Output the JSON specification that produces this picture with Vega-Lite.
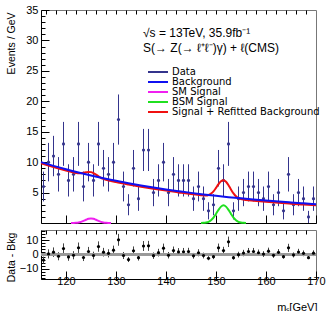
{
  "$schema": "https://vega.github.io/schema/vega-lite/v6.json",
  "padding": {"left": 5, "top": 3, "right": 2, "bottom": 4},
  "spacing": 1,
  "config": {
    "font": "Liberation Sans",
    "view": {"stroke": "#777", "strokeWidth": 1},
    "axis": {"domainColor": "black", "tickColor": "black", "labelColor": "black", "titleColor": "black", "grid": false, "labelFontSize": 11, "titleFontSize": 10.5, "titleFontWeight": "normal", "labelFlush": false, "labelOverlap": false, "minExtent": 0}
  },
  "resolve": {"scale": {"color": "independent"}, "legend": {"color": "independent"}},
  "datasets": {
    "hist": [
      {"m": 115.5, "n": 6, "e": 2.45, "r": -3.9},
      {"m": 116.5, "n": 10, "e": 3.16, "r": 0.4},
      {"m": 117.5, "n": 11, "e": 3.32, "r": 1.6},
      {"m": 118.5, "n": 8, "e": 2.83, "r": -1.2},
      {"m": 119.5, "n": 13, "e": 3.61, "r": 4.1},
      {"m": 120.5, "n": 7, "e": 2.65, "r": -1.7},
      {"m": 121.5, "n": 8, "e": 2.83, "r": -0.5},
      {"m": 122.5, "n": 13, "e": 3.61, "r": 4.7},
      {"m": 123.5, "n": 6, "e": 2.45, "r": -2.1},
      {"m": 124.5, "n": 10, "e": 3.16, "r": 2.1},
      {"m": 125.5, "n": 7, "e": 2.65, "r": -0.7},
      {"m": 126.5, "n": 13, "e": 3.61, "r": 5.5},
      {"m": 127.5, "n": 9, "e": 3.0, "r": 1.6},
      {"m": 128.5, "n": 8, "e": 2.83, "r": 0.8},
      {"m": 129.5, "n": 10, "e": 3.16, "r": 3.0},
      {"m": 130.5, "n": 17, "e": 4.12, "r": 10.2},
      {"m": 131.5, "n": 6, "e": 2.45, "r": -0.7},
      {"m": 132.5, "n": 3, "e": 1.73, "r": -3.5},
      {"m": 133.5, "n": 9, "e": 3.0, "r": 2.6},
      {"m": 134.5, "n": 4, "e": 2.0, "r": -2.2},
      {"m": 135.5, "n": 12, "e": 3.46, "r": 5.9},
      {"m": 136.5, "n": 12, "e": 3.46, "r": 6.0},
      {"m": 137.5, "n": 5, "e": 2.24, "r": -0.8},
      {"m": 138.5, "n": 7, "e": 2.65, "r": 1.3},
      {"m": 139.5, "n": 10, "e": 3.16, "r": 4.4},
      {"m": 140.5, "n": 5, "e": 2.24, "r": -0.5},
      {"m": 141.5, "n": 8, "e": 2.83, "r": 2.7},
      {"m": 142.5, "n": 7, "e": 2.65, "r": 1.8},
      {"m": 143.5, "n": 7, "e": 2.65, "r": 1.9},
      {"m": 144.5, "n": 7, "e": 2.65, "r": 2.0},
      {"m": 145.5, "n": 4, "e": 2.0, "r": -0.9},
      {"m": 146.5, "n": 6, "e": 2.45, "r": 1.2},
      {"m": 147.5, "n": 4, "e": 2.0, "r": -0.7},
      {"m": 148.5, "n": 2, "e": 1.41, "r": -2.6},
      {"m": 149.5, "n": 3, "e": 1.73, "r": -1.5},
      {"m": 150.5, "n": 9, "e": 3.0, "r": 4.6},
      {"m": 151.5, "n": 7, "e": 2.65, "r": 2.7},
      {"m": 152.5, "n": 13, "e": 3.61, "r": 8.8},
      {"m": 153.5, "n": 2, "e": 1.41, "r": -2.2},
      {"m": 154.5, "n": 4, "e": 2.0, "r": -0.1},
      {"m": 155.5, "n": 5, "e": 2.24, "r": 1.0},
      {"m": 156.5, "n": 6, "e": 2.45, "r": 2.1},
      {"m": 157.5, "n": 6, "e": 2.45, "r": 2.1},
      {"m": 158.5, "n": 5, "e": 2.24, "r": 1.2},
      {"m": 159.5, "n": 4, "e": 2.0, "r": 0.3},
      {"m": 160.5, "n": 6, "e": 2.45, "r": 2.3},
      {"m": 161.5, "n": 3, "e": 1.73, "r": -0.6},
      {"m": 162.5, "n": 5, "e": 2.24, "r": 1.5},
      {"m": 163.5, "n": 2, "e": 1.41, "r": -1.5},
      {"m": 164.5, "n": 8, "e": 2.83, "r": 4.6},
      {"m": 165.5, "n": 3, "e": 1.73, "r": -0.3},
      {"m": 166.5, "n": 5, "e": 2.24, "r": 1.7},
      {"m": 167.5, "n": 4, "e": 2.0, "r": 0.8},
      {"m": 168.5, "n": 1, "e": 1.0, "r": -2.2},
      {"m": 169.5, "n": 4, "e": 2.0, "r": 0.9}
    ],
    "bkg": [
      {"x": 115, "v": 10.0}, {"x": 117.5, "v": 9.39}, {"x": 120, "v": 8.82}, {"x": 122.5, "v": 8.30},
      {"x": 125, "v": 7.81}, {"x": 127.5, "v": 7.35}, {"x": 130, "v": 6.93}, {"x": 132.5, "v": 6.54},
      {"x": 135, "v": 6.17}, {"x": 137.5, "v": 5.83}, {"x": 140, "v": 5.52}, {"x": 142.5, "v": 5.23},
      {"x": 145, "v": 4.95}, {"x": 147.5, "v": 4.70}, {"x": 150, "v": 4.47}, {"x": 152.5, "v": 4.25},
      {"x": 155, "v": 4.05}, {"x": 157.5, "v": 3.86}, {"x": 160, "v": 3.68}, {"x": 162.5, "v": 3.52},
      {"x": 165, "v": 3.37}, {"x": 167.5, "v": 3.23}, {"x": 170, "v": 3.10}
    ],
    "sb": [
      {"x": 115, "v": 9.80}, {"x": 117.5, "v": 9.19}, {"x": 120, "v": 8.62}, {"x": 121, "v": 8.41},
      {"x": 121.5, "v": 8.31}, {"x": 122, "v": 8.23}, {"x": 122.5, "v": 8.18}, {"x": 123, "v": 8.19},
      {"x": 123.5, "v": 8.24}, {"x": 124, "v": 8.33}, {"x": 124.5, "v": 8.39}, {"x": 125, "v": 8.36},
      {"x": 125.5, "v": 8.20}, {"x": 126, "v": 7.95}, {"x": 126.5, "v": 7.67}, {"x": 127, "v": 7.43},
      {"x": 127.5, "v": 7.24}, {"x": 128, "v": 7.10}, {"x": 128.5, "v": 6.99}, {"x": 129, "v": 6.90},
      {"x": 130, "v": 6.73}, {"x": 132.5, "v": 6.34}, {"x": 135, "v": 5.97}, {"x": 137.5, "v": 5.63},
      {"x": 140, "v": 5.32}, {"x": 142.5, "v": 5.03}, {"x": 145, "v": 4.75}, {"x": 147, "v": 4.56},
      {"x": 147.5, "v": 4.53}, {"x": 148, "v": 4.53}, {"x": 148.5, "v": 4.61}, {"x": 149, "v": 4.82},
      {"x": 149.5, "v": 5.20}, {"x": 150, "v": 5.76}, {"x": 150.5, "v": 6.38}, {"x": 151, "v": 6.87},
      {"x": 151.5, "v": 7.04}, {"x": 152, "v": 6.78}, {"x": 152.5, "v": 6.21}, {"x": 153, "v": 5.50},
      {"x": 153.5, "v": 4.86}, {"x": 154, "v": 4.39}, {"x": 154.5, "v": 4.09}, {"x": 155, "v": 3.93},
      {"x": 155.5, "v": 3.84}, {"x": 156, "v": 3.78}, {"x": 157.5, "v": 3.66}, {"x": 160, "v": 3.48},
      {"x": 162.5, "v": 3.32}, {"x": 165, "v": 3.17}, {"x": 167.5, "v": 3.03}, {"x": 170, "v": 2.90}
    ],
    "sm": [
      {"x": 121, "v": 0.003}, {"x": 121.5, "v": 0.011}, {"x": 122, "v": 0.033}, {"x": 122.5, "v": 0.086},
      {"x": 123, "v": 0.19}, {"x": 123.5, "v": 0.34}, {"x": 124, "v": 0.53}, {"x": 124.5, "v": 0.69},
      {"x": 125, "v": 0.75}, {"x": 125.5, "v": 0.69}, {"x": 126, "v": 0.53}, {"x": 126.5, "v": 0.34},
      {"x": 127, "v": 0.19}, {"x": 127.5, "v": 0.086}, {"x": 128, "v": 0.033}, {"x": 128.5, "v": 0.011},
      {"x": 129, "v": 0.003}
    ],
    "bsm": [
      {"x": 147, "v": 0.007}, {"x": 147.5, "v": 0.03}, {"x": 148, "v": 0.08}, {"x": 148.5, "v": 0.20},
      {"x": 149, "v": 0.46}, {"x": 149.5, "v": 0.89}, {"x": 150, "v": 1.49}, {"x": 150.5, "v": 2.16},
      {"x": 151, "v": 2.69}, {"x": 151.5, "v": 2.9}, {"x": 152, "v": 2.69}, {"x": 152.5, "v": 2.16},
      {"x": 153, "v": 1.49}, {"x": 153.5, "v": 0.89}, {"x": 154, "v": 0.46}, {"x": 154.5, "v": 0.20},
      {"x": 155, "v": 0.08}, {"x": 155.5, "v": 0.03}, {"x": 156, "v": 0.007}
    ]
  },
  "vconcat": [
    {
      "width": 275,
      "height": 213,
      "resolve": {"axis": {"x": "independent", "y": "independent"}},
      "layer": [
        {
          "data": {"name": "hist"},
          "mark": {"type": "errorbar", "thickness": 1},
          "encoding": {
            "x": {"field": "m", "type": "quantitative", "scale": {"domain": [115, 170], "nice": false, "zero": false},
                  "axis": {"values": [120, 130, 140, 150, 160, 170], "tickSize": -8, "labels": false, "title": null, "maxExtent": 0}},
            "y": {"field": "n", "type": "quantitative", "scale": {"domain": [0, 35], "nice": false},
                  "axis": {"values": [5, 10, 15, 20, 25, 30, 35], "tickSize": -8, "labelPadding": 11, "title": "Events / GeV", "titleX": -30, "titleY": 2, "titleAlign": "right", "titleAngle": 270, "titleBaseline": "middle"}},
            "yError": {"field": "e"},
            "color": {"datum": "Data", "type": "nominal",
              "scale": {"domain": ["Data", "Background", "SM Signal", "BSM Signal", "Signal + Refitted Background"],
                        "range": ["#34348c", "#1010f0", "#f020f0", "#20e020", "#f01010"]},
              "legend": {
                "orient": "none", "legendX": 102, "legendY": 18, "padding": 0,
                "title": ["√s = 13TeV, 35.9fb⁻¹", "S(→ Z(→ ℓ⁺ℓ⁻)γ) + ℓ(CMS)"],
                "titleFontSize": 12, "titleFontWeight": "normal", "titleColor": "black", "titleLineHeight": 15, "titlePadding": 12, "titleAnchor": "start",
                "labelFont": "DejaVu Sans", "labelFontSize": 10, "labelColor": "black", "labelOffset": 19, "labelLimit": 250,
                "symbolSize": 16, "rowPadding": -3, "symbolType": "M0,0H10", "symbolStrokeWidth": 2
              }}
          }
        },
        {
          "data": {"name": "hist"},
          "mark": {"type": "point", "filled": true, "size": 10, "opacity": 1},
          "encoding": {
            "x": {"field": "m", "type": "quantitative", "axis": null},
            "y": {"field": "n", "type": "quantitative", "axis": null},
            "color": {"datum": "Data", "type": "nominal"}
          }
        },
        {
          "data": {"name": "sb"},
          "mark": {"type": "line", "strokeWidth": 2, "interpolate": "monotone"},
          "encoding": {
            "x": {"field": "x", "type": "quantitative", "axis": null},
            "y": {"field": "v", "type": "quantitative", "axis": null},
            "color": {"datum": "Signal + Refitted Background", "type": "nominal"}
          }
        },
        {
          "data": {"name": "bkg"},
          "mark": {"type": "line", "strokeWidth": 2, "interpolate": "monotone"},
          "encoding": {
            "x": {"field": "x", "type": "quantitative",
                  "axis": {"values": [116,118,120,122,124,126,128,130,132,134,136,138,140,142,144,146,148,150,152,154,156,158,160,162,164,166,168], "tickSize": -4, "labels": false, "domain": false, "title": null, "maxExtent": 0}},
            "y": {"field": "v", "type": "quantitative",
                  "axis": {"orient": "left", "values": [1,2,3,4,6,7,8,9,11,12,13,14,16,17,18,19,21,22,23,24,26,27,28,29,31,32,33,34], "tickSize": -4, "labels": false, "domain": false, "title": null}},
            "color": {"datum": "Background", "type": "nominal"}
          }
        },
        {
          "data": {"name": "sm"},
          "mark": {"type": "line", "strokeWidth": 2, "interpolate": "monotone"},
          "encoding": {
            "x": {"field": "x", "type": "quantitative", "axis": null},
            "y": {"field": "v", "type": "quantitative", "axis": null},
            "color": {"datum": "SM Signal", "type": "nominal"}
          }
        },
        {
          "data": {"name": "bsm"},
          "mark": {"type": "line", "strokeWidth": 2, "interpolate": "monotone"},
          "encoding": {
            "x": {"field": "x", "type": "quantitative", "axis": null},
            "y": {"field": "v", "type": "quantitative", "axis": null},
            "color": {"datum": "BSM Signal", "type": "nominal"}
          }
        }
      ]
    },
    {
      "width": 275,
      "height": 49,
      "resolve": {"axis": {"x": "independent", "y": "independent"}},
      "layer": [
        {
          "data": {"name": "hist"},
          "mark": {"type": "errorbar", "thickness": 1, "color": "#444"},
          "encoding": {
            "x": {"field": "m", "type": "quantitative", "scale": {"domain": [115, 170], "nice": false, "zero": false},
                  "axis": {"values": [120, 130, 140, 150, 160, 170], "tickSize": -8, "labelPadding": 4, "title": "mₛ[GeV]", "titleX": 276, "titleY": 22, "titleAlign": "right", "titleBaseline": "top", "titleFontSize": 11}},
            "y": {"field": "r", "type": "quantitative", "scale": {"domain": [-17, 17], "nice": false},
                  "axis": {"values": [-10, 0, 10], "tickSize": -8, "labelPadding": 11, "title": "Data - Bkg", "titleX": -30, "titleY": 27, "titleAlign": "center", "titleAngle": 270, "titleBaseline": "middle"}},
            "yError": {"field": "e"}
          }
        },
        {
          "data": {"name": "hist"},
          "mark": {"type": "rule", "color": "#999", "strokeWidth": 2},
          "encoding": {
            "y": {"datum": 0, "type": "quantitative", "axis": null}
          }
        },
        {
          "data": {"name": "hist"},
          "mark": {"type": "point", "filled": true, "size": 10, "opacity": 1, "color": "black"},
          "encoding": {
            "x": {"field": "m", "type": "quantitative",
                  "axis": {"values": [116,118,120,122,124,126,128,130,132,134,136,138,140,142,144,146,148,150,152,154,156,158,160,162,164,166,168], "tickSize": -4, "labels": false, "domain": false, "title": null}},
            "y": {"field": "r", "type": "quantitative",
                  "axis": {"orient": "left", "values": [-16,-14,-12,-8,-6,-4,-2,2,4,6,8,12,14,16], "tickSize": -4, "labels": false, "domain": false, "title": null}}
          }
        }
      ]
    }
  ]
}
